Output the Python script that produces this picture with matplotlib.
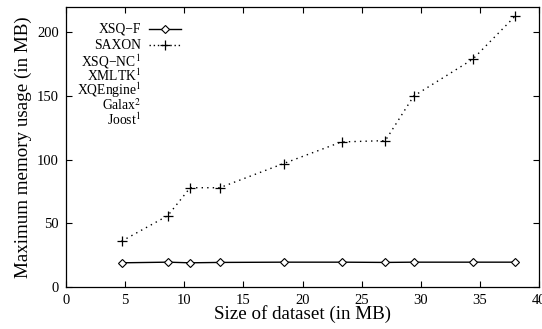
import matplotlib.pyplot as plt
from matplotlib.lines import Line2D

plt.rcParams['font.family'] = ['Liberation Serif', 'DejaVu Serif']
plt.rcParams['mathtext.fontset'] = 'stix'

# dataset sizes (MB)
sizes = [4.7, 8.6, 10.5, 13.0, 18.4, 23.3, 27.0, 29.4, 34.4, 38.0]
xsqf_mem = [19, 19.5, 19, 19.3, 19.5, 19.5, 19.3, 19.5, 19.5, 19.5]
saxon_mem = [36, 56, 78, 78, 97, 114, 115, 150, 179, 213]

# systems listed in the key without data
no_data = ["XSQ\u2212NC$^1$", "XMLTK$^1$", "XQEngine$^1$", "Galax$^2$", "Joost$^1$"]

fig = plt.figure(figsize=(5.42, 3.29), dpi=100)
ax = fig.add_axes([0.1218, 0.1277, 0.8727, 0.851])

ax.plot(sizes, xsqf_mem, color='black', lw=1.0, marker='D', ms=4.5,
        mfc='white', mec='black', mew=0.8)
ax.plot(sizes, saxon_mem, color='black', lw=1.0, ls=(0, (1, 3)),
        marker='+', ms=7, mew=0.9)

ax.set_xlim(0, 40)
ax.set_ylim(0, 220)
ax.set_xticks(range(0, 41, 5))
ax.set_yticks(range(0, 201, 50))
ax.tick_params(direction='in', top=True, right=True, length=4, labelsize=10.5, pad=5)
for s in ax.spines.values():
    s.set_linewidth(0.9)

ax.set_xlabel("Size of dataset (in MB)", fontsize=13.7, labelpad=-1)
ax.set_ylabel("Maximum memory usage (in MB)", fontsize=13.7, labelpad=4)

# gnuplot style key: right-aligned labels, sample to the right
tr = ax.transAxes
x_txt, x0, x1 = 0.159, 0.176, 0.243
rows = [("XSQ\u2212F", 'xsqf'), ("SAXON", 'saxon')] + [(n, None) for n in no_data]
y = 0.92
for label, kind in rows:
    ax.text(x_txt, y, label, transform=tr, ha='right', va='center', fontsize=9.8)
    if kind == 'xsqf':
        ax.add_line(Line2D([x0, x1], [y, y], transform=tr, color='black', lw=1.0))
        ax.add_line(Line2D([(x0 + x1) / 2], [y], transform=tr, marker='D', ms=4.5,
                           mfc='white', mec='black', mew=0.8))
    elif kind == 'saxon':
        ax.add_line(Line2D([x0, x1], [y, y], transform=tr, color='black', lw=1.0,
                           ls=(0, (1, 2))))
        ax.add_line(Line2D([(x0 + x1) / 2], [y], transform=tr, marker='+', ms=7,
                           color='black', mew=0.9))
    y -= 0.057 if kind else 0.052

fig.savefig("out.png", dpi=100)
